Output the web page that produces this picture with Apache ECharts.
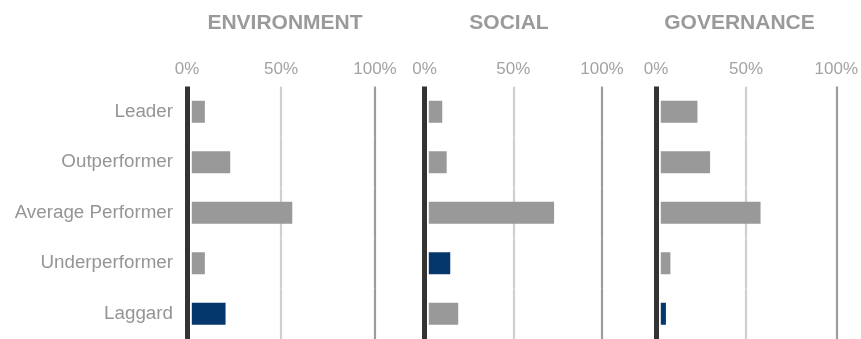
<!DOCTYPE html>
<html>
<head>
<meta charset="utf-8">
<script src="https://cdn.jsdelivr.net/npm/echarts@6/dist/echarts.min.js"></script>
<style>
html,body{margin:0;padding:0;background:#fff;}
#chart{width:861px;height:339px;}
</style>
</head>
<body>
<div id="chart"></div>
<script>
// ---- data ----
const categories = ['Leader', 'Outperformer', 'Average Performer', 'Underperformer', 'Laggard'];
const panelTitles = ['ENVIRONMENT', 'SOCIAL', 'GOVERNANCE'];
const envValues = [9.5, 23, 56, 9.5, 20.5];
const socialValues = [10, 12.5, 73, 14.5, 19];
const govValues = [23, 30, 58, 8, 5.5];
const highlighted = ['Laggard', 'Underperformer', 'Laggard'];
const tickValues = [0, 50, 100];

// ---- layout / style ----
const panels = [
  { left: 187, width: 188, titleX: 280, values: envValues },
  { left: 424.5, width: 177.5, titleX: 504, values: socialValues },
  { left: 656, width: 183, titleX: 734.5, values: govValues }
];
const GRAY = '#999999', BLUE = '#04376b';
const FONT = '"Liberation Sans", Arial, sans-serif';

const chart = echarts.init(document.getElementById('chart'), null, { renderer: 'canvas' });

const option = {
  backgroundColor: '#fff',
  animation: false,
  title: panels.map((p, i) => ({
    text: panelTitles[i],
    left: p.titleX,
    top: 8,
    textAlign: 'center',
    textStyle: { fontFamily: FONT, fontSize: 21, fontWeight: 'bold', color: '#9a9a9a' }
  })),
  grid: panels.map(p => ({ left: p.left, width: p.width, top: 86.5, height: 253.5, containLabel: false })),
  xAxis: panels.map((p, i) => ({
    type: 'value',
    gridIndex: i,
    position: 'top',
    min: tickValues[0],
    max: tickValues[tickValues.length - 1],
    interval: tickValues[1] - tickValues[0],
    axisLine: { show: false },
    axisTick: { show: false },
    axisLabel: {
      formatter: '{value}%',
      color: '#a3a3a3',
      fontFamily: FONT,
      fontSize: 17,
      margin: 9
    },
    splitLine: { show: true, lineStyle: { color: ['rgba(0,0,0,0)', '#cfcfcf', '#9c9c9c'], width: 2.2, cap: 'butt' } }
  })),
  yAxis: panels.map((p, i) => ({
    type: 'category',
    gridIndex: i,
    inverse: true,
    data: categories,
    z: 5,
    axisLine: { show: true, lineStyle: { color: '#333333', width: 5, cap: 'butt', shadowColor: '#ffffff', shadowBlur: 0, shadowOffsetX: 1.8 } },
    axisTick: { show: false },
    splitLine: { show: true, lineStyle: { color: 'rgba(255,255,255,0.25)', width: 1 } },
    axisLabel: {
      show: i === 0,
      color: '#959595',
      fontFamily: FONT,
      fontSize: 18.8,
      margin: 14
    }
  })),
  series: panels.map((p, i) => ({
    type: 'bar',
    xAxisIndex: i,
    yAxisIndex: i,
    barWidth: 22,
    data: p.values.map((v, k) => ({
      value: v,
      itemStyle: { color: categories[k] === highlighted[i] ? BLUE : GRAY }
    }))
  }))
};
chart.setOption(option);
</script>
</body>
</html>
